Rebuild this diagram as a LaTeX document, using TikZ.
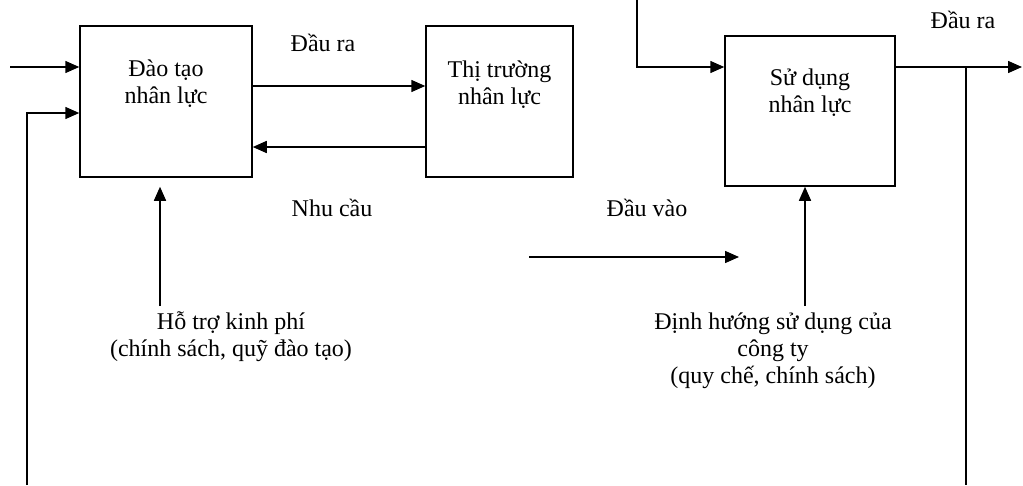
\documentclass[tikz,border=0pt]{standalone}
\usepackage{fontspec}
\setmainfont{Liberation Serif}
\usetikzlibrary{arrows.meta}
\begin{document}
\begin{tikzpicture}[x=1pt,y=-1pt,
  box/.style={draw, line width=1.5pt, minimum width=#1, inner sep=0pt},
  lab/.style={font=\fontsize{24}{27}\selectfont, align=center, inner sep=0pt},
  arr/.style={line width=1.5pt, -{Triangle[length=14pt,width=12pt]}},
  ln/.style={line width=1.5pt},
  every node/.style={text=black}]
\useasboundingbox (0,0) rectangle (1023,485);
% boxes
\node[box=172pt, minimum height=151pt] (b1) at (166,101.5) {};
\node[box=147pt, minimum height=151pt] (b2) at (499.5,101.5) {};
\node[box=170pt, minimum height=150pt] (b3) at (810,111) {};
\node[lab] (t1) at (166,84) {Đào tạo\\nhân lực};
\node[lab] (t2) at (499.5,85) {Thị trường\\nhân lực};
\node[lab] (t3) at (810,93) {Sử dụng\\nhân lực};
% labels
\node[lab] (l1) at (323,43) {Đầu ra};
\node[lab] (l2) at (332,208) {Nhu cầu};
\node[lab] (l3) at (647,208) {Đầu vào};
\node[lab] (l4) at (963,20) {Đầu ra};
\node[lab] (h1) at (231,336.5) {Hỗ trợ kinh phí\\(chính sách, quỹ đào tạo)};
\node[lab] (h2) at (773,350.5) {Định hướng sử dụng của\\công ty\\(quy chế, chính sách)};
% coordinates
\coordinate (in1) at (10,67);
\coordinate (fb) at (27,485);
\coordinate (s1) at (160,306);
\coordinate (s2) at (805,306);
\coordinate (v1a) at (529,257);
\coordinate (v1b) at (739,257);
\coordinate (top3) at (637,0);
\coordinate (out3) at (1022,67);
\coordinate (br) at (966,67);
\coordinate (brb) at (966,485);
% connectors
\draw[arr] (in1) -- (in1 -| b1.west);
\draw[arr] (fb) |- (b1.west |- 0,113);
\draw[arr] (b1.east |- 0,86) -- (b2.west |- 0,86);
\draw[arr] (b2.west |- 0,147) -- (b1.east |- 0,147);
\draw[arr, shorten >=9pt] (s1) -- (s1 |- b1.south);
\draw[arr] (v1a) -- (v1b);
\draw[arr] (top3) |- (b3.west |- 0,67);
\draw[arr] (b3.east |- 0,67) -- (out3);
\draw[ln] (br) -- (brb);
\draw[arr] (s2) -- (s2 |- b3.south);
\end{tikzpicture}
\end{document}
